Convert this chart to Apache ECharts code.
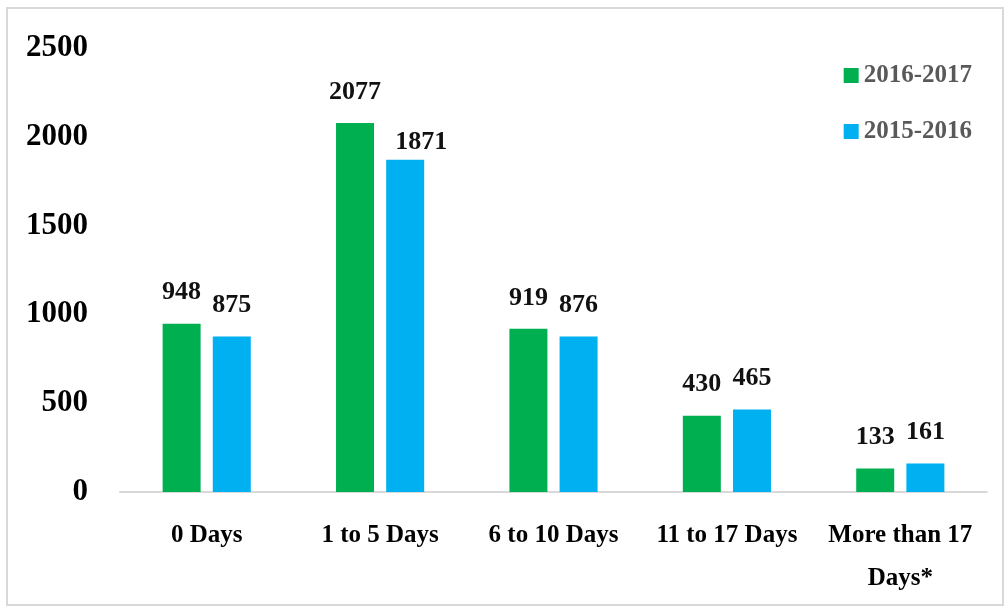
<!DOCTYPE html>
<html><head><meta charset="utf-8">
<script src="https://cdn.jsdelivr.net/npm/echarts@6/dist/echarts.min.js"></script>
<style>html,body{margin:0;padding:0;background:#fff}#c{width:1007px;height:608px}</style>
</head><body><div id="c"></div>
<script>
const categories = ['0 Days', '1 to 5 Days', '6 to 10 Days', '11 to 17 Days', 'More than 17\nDays*'];
const s2016_2017 = [948, 2077, 919, 430, 133];
const s2015_2016 = [875, 1871, 876, 465, 161];
const seriesNames = ['2016-2017', '2015-2016'];
const yTicks = {min: 0, max: 2500, interval: 500};

const font = 'Liberation Serif';
const chart = echarts.init(document.getElementById('c'));
const lbl = {show: true, position: 'top', distance: 18, fontFamily: font, fontWeight: 'bold', fontSize: 26, color: '#111'};
// in the reference, the label of the tallest blue bar is nudged right/down
const blueData = s2015_2016.map((v, i) => i === 1 ? {value: v, label: {offset: [16, 14]}} : v);
chart.setOption({
  animation: false,
  backgroundColor: '#fff',
  graphic: [{type: 'rect', shape: {x: 7, y: 8, width: 996, height: 597}, style: {fill: 'none', stroke: '#d9d9d9', lineWidth: 2}}],
  legend: {
    orient: 'vertical', right: 30, top: 58, itemGap: 31, itemWidth: 15, itemHeight: 15, itemStyle: {borderWidth: 0},
    icon: 'rect',
    textStyle: {fontFamily: font, fontWeight: 'bold', fontSize: 25, color: '#595959'},
    data: seriesNames
  },
  grid: {left: 120, right: 20, top: 48, bottom: 116},
  xAxis: {
    type: 'category', data: categories,
    axisLine: {lineStyle: {color: '#d9d9d9', width: 2}},
    axisTick: {show: false},
    axisLabel: {fontFamily: font, fontWeight: 'bold', fontSize: 25, color: '#000', margin: 22, lineHeight: 43, interval: 0}
  },
  yAxis: {
    type: 'value', min: yTicks.min, max: yTicks.max, interval: yTicks.interval,
    splitLine: {show: false}, axisLine: {show: false}, axisTick: {show: false},
    axisLabel: {fontFamily: font, fontWeight: 'bold', fontSize: 31, color: '#000', margin: 32, formatter: v => String(v)}
  },
  series: [
    {name: seriesNames[0], type: 'bar', data: s2016_2017, barWidth: 38, barGap: '32%',
     itemStyle: {color: '#00B050'}, label: lbl},
    {name: seriesNames[1], type: 'bar', data: blueData, barWidth: 38,
     itemStyle: {color: '#00B0F0'}, label: lbl}
  ]
});
</script></body></html>
